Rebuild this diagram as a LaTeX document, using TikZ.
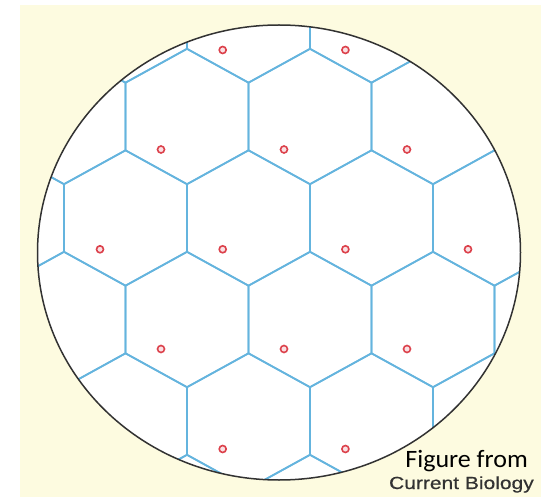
\documentclass[tikz,border=0pt]{standalone}
\usepackage{fontspec}
\newfontfamily\figfont[FakeStretch=1.04]{Carlito}
\newfontfamily\cbfont[FakeStretch=1.2,FakeBold=0.6]{Liberation Sans}
\definecolor{cream}{RGB}{253,251,224}
\definecolor{hexblue}{RGB}{100,180,222}
\definecolor{dotred}{RGB}{220,65,75}
\definecolor{rim}{RGB}{50,50,50}
\definecolor{cbgray}{RGB}{50,50,50}
\begin{document}
\begin{tikzpicture}[x=1pt,y=-1pt,
  hexline/.style={hexblue, line width=1.7pt, line join=miter},
  rimline/.style={rim, line width=1.5pt},
  celldot/.style={circle, draw=dotred, line width=1.6pt, minimum size=7pt, inner sep=0pt, fill={rgb,255:red,250;green,225;blue,228}},
  credit/.style={anchor=base east, inner sep=0pt}]
\useasboundingbox (0,0) rectangle (541,497);
\fill[cream] (20,5) rectangle (541,497);
\fill[white] (279,252.5) ellipse [x radius=241.5, y radius=227.5];
\begin{scope}
  \clip (279,252.5) ellipse [x radius=241.5, y radius=227.5];
  \foreach \j in {-1,...,4} {
    \foreach \k in {-1,...,4} {
      \pgfmathsetmacro\cy{116.5+101.5*\j}
      \pgfmathsetmacro\cx{64+123*\k+61.5*mod(abs(\j),2)}
      \draw[hexline] (\cx,\cy-67.7) -- (\cx+61.5,\cy-33.85) -- (\cx+61.5,\cy+33.85)
        -- (\cx,\cy+67.7) -- (\cx-61.5,\cy+33.85) -- (\cx-61.5,\cy-33.85) -- cycle;
    }
  }
\end{scope}
\draw[rimline] (279,252.5) ellipse [x radius=241.5, y radius=227.5];
% dots
\foreach \x [count=\i] in {222.7,345.4} \node[celldot] (da\i) at (\x,50) {};
\foreach \x [count=\i] in {161,284,407} \node[celldot] (db\i) at (\x,149.5) {};
\foreach \x [count=\i] in {100,222.7,345.4,468} \node[celldot] (dc\i) at (\x,249.3) {};
\foreach \x [count=\i] in {161,284,407} \node[celldot] (dd\i) at (\x,349) {};
\foreach \x [count=\i] in {222.7,345.4} \node[celldot] (de\i) at (\x,449) {};
% credit
\node[credit, font=\figfont\fontsize{25}{25}\selectfont] (fig) at (528,467.5) {Figure from};
\node[credit, text=cbgray, font=\cbfont\fontsize{17.5}{17.5}\selectfont] (cb) at (534,489) {Current Biology};
\end{tikzpicture}
\end{document}
